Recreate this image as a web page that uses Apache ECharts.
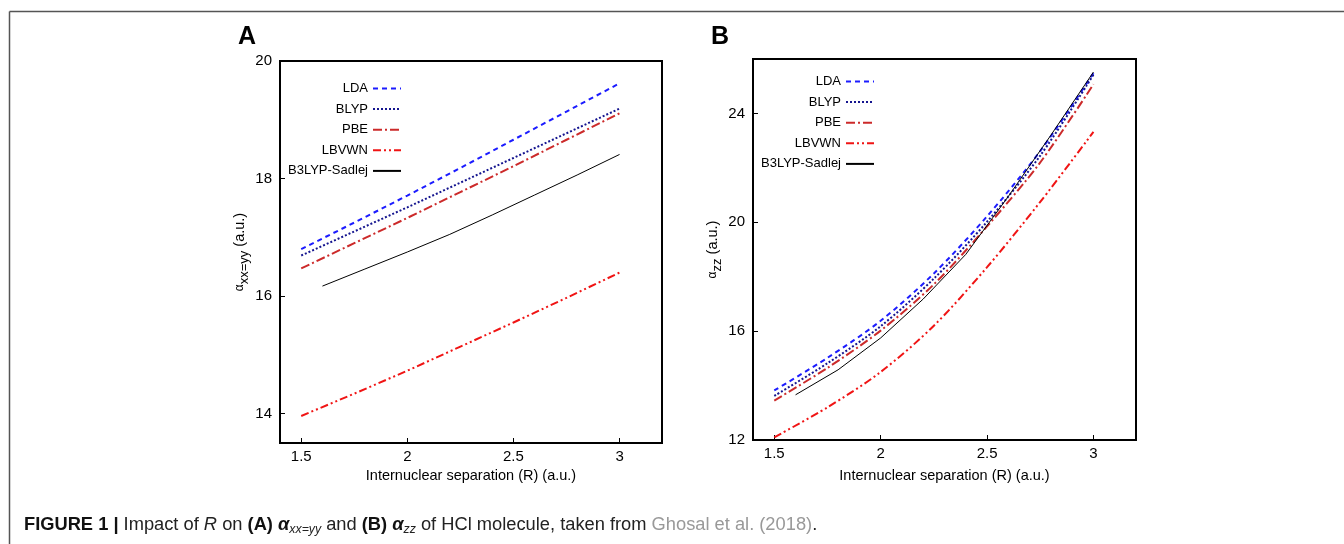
<!DOCTYPE html>
<html>
<head>
<meta charset="utf-8">
<script src="https://cdn.jsdelivr.net/npm/echarts@6/dist/echarts.min.js"></script>
<style>
  html, body { margin: 0; padding: 0; background: #fff; }
  #chart { width: 1344px; height: 544px; }
</style>
</head>
<body>
<div id="chart"></div>
<script>
// internuclear separation grids (a.u.)
const rDft = [1.5, 1.75, 2.0, 2.25, 2.5, 2.75, 3.0];
const rSadlej = [1.6, 1.8, 2.0, 2.2, 2.4, 2.6, 2.8, 3.0];

// panel A : alpha xx=yy
const ldaA = [16.80, 17.25, 17.71, 18.18, 18.66, 19.14, 19.62];
const blypA = [16.69, 17.10, 17.51, 17.93, 18.35, 18.77, 19.19];
const pbeA = [16.47, 16.90, 17.33, 17.77, 18.21, 18.66, 19.11];
const lbvwnA = [13.96, 14.34, 14.73, 15.14, 15.55, 15.97, 16.40];
const sadlejA = [16.17, 16.46, 16.75, 17.05, 17.38, 17.72, 18.06, 18.41];

// panel B : alpha zz
const ldaB = [13.82, 15.02, 16.38, 18.12, 20.22, 22.62, 25.48];
const blypB = [13.62, 14.82, 16.18, 17.93, 20.02, 22.45, 25.42];
const pbeB = [13.45, 14.65, 16.02, 17.72, 19.85, 22.20, 25.07];
const lbvwnB = [12.10, 13.20, 14.50, 16.20, 18.35, 20.75, 23.32];
const sadlejB = [13.66, 14.58, 15.75, 17.18, 18.82, 20.95, 23.20, 25.52];

const xTicks = [1.5, 2, 2.5, 3];
const yTicksA = [14, 16, 18, 20];
const yTicksB = [12, 16, 20, 24];

const font = 'Liberation Sans, Arial, sans-serif';

const lineStyles = {
  'LDA': {color: '#1c1cff', width: 2, type: [5, 4]},
  'BLYP': {color: '#15158f', width: 2, type: [2, 2]},
  'PBE': {color: '#cc2a2a', width: 2, type: [9, 3, 2, 3]},
  'LBVWN': {color: '#f01414', width: 2, type: [8, 3, 2, 3, 2, 3]},
  'B3LYP-Sadlej': {color: '#000000', width: 1, type: 'solid'}
};

function pairs(xs, ys) {
  return xs.map(function (x, i) { return [x, ys[i]]; });
}

function makeSeries(name, xs, ys, idx, smooth) {
  const ls = lineStyles[name];
  return {
    name: name,
    type: 'line',
    xAxisIndex: idx,
    yAxisIndex: idx,
    data: pairs(xs, ys),
    symbol: 'none',
    smooth: smooth,
    color: ls.color,
    lineStyle: {color: ls.color, width: ls.width, type: ls.type},
    emphasis: {disabled: true},
    animation: false
  };
}

function xAxis(idx, gap) {
  return {
    type: 'value',
    gridIndex: idx,
    min: 1.4,
    max: 3.2,
    name: 'Internuclear separation (R) (a.u.)',
    nameLocation: 'middle',
    nameGap: gap,
    nameTextStyle: {fontFamily: font, fontSize: 14.5, color: '#000'},
    axisLine: {show: true, lineStyle: {color: '#000', width: 2}},
    axisTick: {show: true, inside: true, length: 5, customValues: xTicks, lineStyle: {color: '#000'}},
    axisLabel: {customValues: xTicks, margin: 6, fontFamily: font, fontSize: 15, color: '#000'},
    splitLine: {show: false}
  };
}

function yAxis(idx, min, max, ticks, sub) {
  return {
    type: 'value',
    gridIndex: idx,
    min: min,
    max: max,
    name: '{g|α}{s|' + sub + '}{n| (a.u.)}',
    nameLocation: 'middle',
    nameRotate: 90,
    nameGap: 32,
    nameTextStyle: {
      fontFamily: font, color: '#000',
      rich: {
        g: {fontFamily: font, fontSize: 12, color: '#000'},
        s: {fontFamily: font, fontSize: 13, color: '#000', lineHeight: 14, padding: [10, 0, 0, 0]},
        n: {fontFamily: font, fontSize: 14.5, color: '#000'}
      }
    },
    axisLine: {show: true, lineStyle: {color: '#000', width: 2}},
    axisTick: {show: true, inside: true, length: 5, customValues: ticks, lineStyle: {color: '#000'}},
    axisLabel: {customValues: ticks, margin: 8, fontFamily: font, fontSize: 15, color: '#000'},
    splitLine: {show: false}
  };
}

function legend(right, top) {
  return {
    orient: 'vertical',
    align: 'right',
    right: right,
    top: top,
    padding: 0,
    itemWidth: 28,
    itemHeight: 14,
    itemGap: 7.6,
    selectedMode: false,
    // hide the marker dot, keep only the line sample
    itemStyle: {opacity: 0},
    textStyle: {fontFamily: font, fontSize: 13, color: '#000'},
    data: ['LDA', 'BLYP', 'PBE', 'LBVWN', 'B3LYP-Sadlej']
  };
}

const chart = echarts.init(document.getElementById('chart'), null, {renderer: 'canvas'});

const option = {
  backgroundColor: '#ffffff',
  animation: false,
  grid: [
    {left: 280, right: 682, top: 61, bottom: 101, show: true, borderColor: '#000', borderWidth: 2, backgroundColor: 'transparent'},
    {left: 753, right: 208, top: 59, bottom: 104, show: true, borderColor: '#000', borderWidth: 2, backgroundColor: 'transparent'}
  ],
  xAxis: [xAxis(0, 25), xAxis(1, 28)],
  yAxis: [yAxis(0, 13.5, 20, yTicksA, 'xx=yy'), yAxis(1, 12, 26, yTicksB, 'zz')],
  legend: [legend(942, 82), legend(469, 75)],
  series: [
    makeSeries('LDA', rDft, ldaA, 0, false),
    makeSeries('BLYP', rDft, blypA, 0, false),
    makeSeries('PBE', rDft, pbeA, 0, false),
    makeSeries('LBVWN', rDft, lbvwnA, 0, false),
    makeSeries('B3LYP-Sadlej', rSadlej, sadlejA, 0, false),
    makeSeries('LDA', rDft, ldaB, 1, 0.3),
    makeSeries('BLYP', rDft, blypB, 1, 0.3),
    makeSeries('PBE', rDft, pbeB, 1, 0.3),
    makeSeries('LBVWN', rDft, lbvwnB, 1, 0.3),
    makeSeries('B3LYP-Sadlej', rSadlej, sadlejB, 1, false)
  ],
  graphic: [
    // figure frame (top and left edges only)
    {type: 'line', shape: {x1: 9.5, y1: 11.5, x2: 1344, y2: 11.5}, style: {stroke: '#555', lineWidth: 1.5}, silent: true},
    {type: 'line', shape: {x1: 9.5, y1: 11.5, x2: 9.5, y2: 544}, style: {stroke: '#555', lineWidth: 1.5}, silent: true},
    // panel letters
    {type: 'text', x: 247, y: 37, style: {text: 'A', font: 'bold 25px ' + font, fill: '#000', align: 'center', verticalAlign: 'middle'}},
    {type: 'text', x: 720, y: 37, style: {text: 'B', font: 'bold 25px ' + font, fill: '#000', align: 'center', verticalAlign: 'middle'}},
    // caption
    {
      type: 'text', x: 24, y: 525,
      style: {
        text: '{b|FIGURE 1 | }{t|Impact of }{i|R}{t| on }{b|(A) }{a|α}{s|xx=yy}{t| and }{b|(B) }{a|α}{s|zz}{t| of HCl molecule, taken from }{gr|Ghosal et al. (2018)}{t|.}',
        verticalAlign: 'middle',
        rich: {
          b: {fontFamily: font, fontSize: 18.3, fontWeight: 'bold', fill: '#111'},
          t: {fontFamily: font, fontSize: 18.3, fill: '#222'},
          i: {fontFamily: font, fontSize: 18.3, fontStyle: 'italic', fill: '#222'},
          a: {fontFamily: font, fontSize: 18.3, fontWeight: 'bold', fontStyle: 'italic', fill: '#111'},
          s: {fontFamily: font, fontSize: 12.3, fontStyle: 'italic', fill: '#222', lineHeight: 13, padding: [9, 0, 0, 0]},
          gr: {fontFamily: font, fontSize: 18.3, fill: '#999'}
        }
      }
    }
  ]
};

chart.setOption(option);
</script>
</body>
</html>
